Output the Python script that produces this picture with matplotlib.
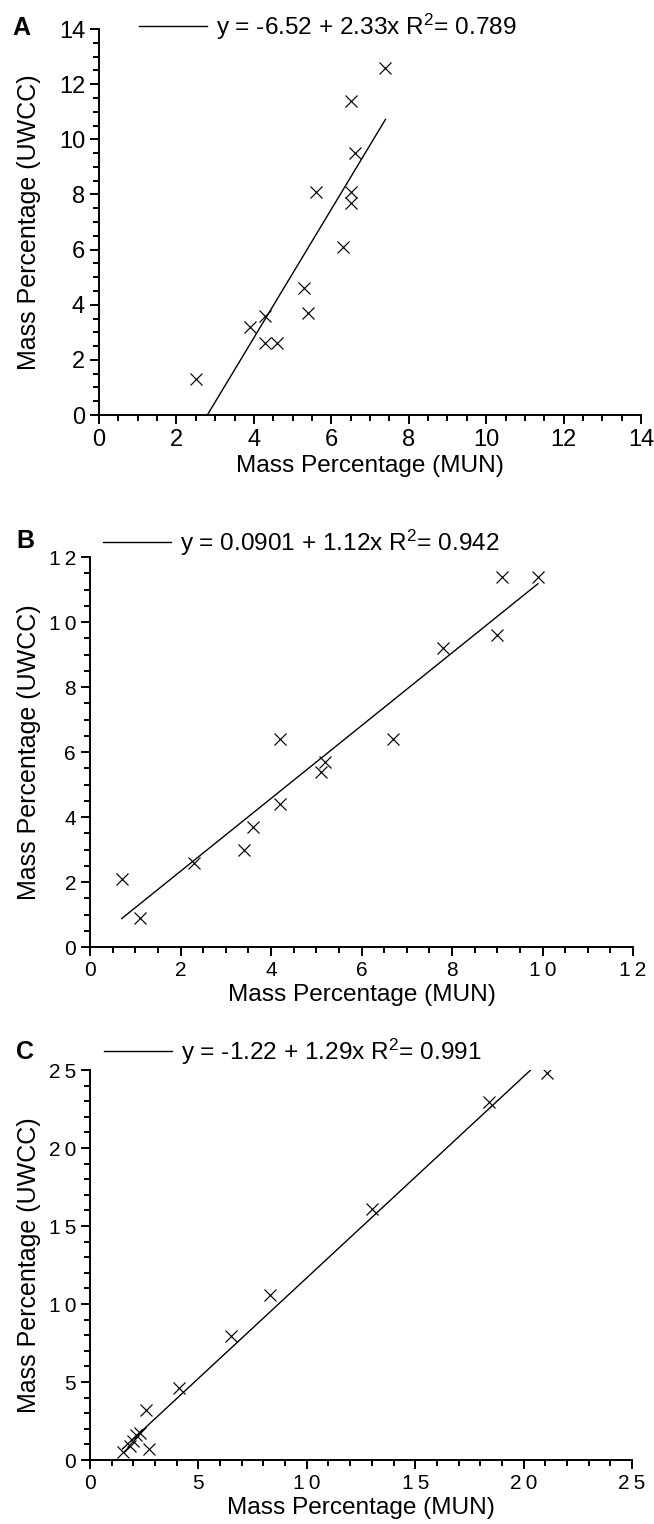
import matplotlib
matplotlib.use("Agg")
import matplotlib.pyplot as plt
import numpy as np

plt.rcParams['font.family'] = ['Liberation Sans', 'DejaVu Sans']
plt.rcParams['mathtext.fontset'] = 'custom'
plt.rcParams['mathtext.rm'] = 'Liberation Sans'
plt.rcParams['mathtext.default'] = 'regular'

# ---------------- data ----------------
a_mun = [2.5, 3.9, 4.3, 4.3, 4.6, 5.3, 5.4, 5.6, 6.3, 6.5, 6.5, 6.6, 6.5, 7.4]
a_uwcc = [1.3, 3.2, 3.6, 2.6, 2.6, 4.6, 3.7, 8.1, 6.1, 8.1, 7.7, 9.5, 11.4, 12.6]
a_fit = (-6.52, 2.33)
a_label = 'y = -6.52 + 2.33x R$^2$= 0.789'

b_mun = [0.7, 1.1, 2.3, 3.4, 3.6, 4.2, 4.2, 5.1, 5.2, 6.7, 7.8, 9.0, 9.1, 9.9]
b_uwcc = [2.1, 0.9, 2.6, 3.0, 3.7, 4.4, 6.4, 5.4, 5.7, 6.4, 9.2, 9.6, 11.4, 11.4]
b_fit = (0.0901, 1.12)
b_label = 'y = 0.0901 + 1.12x R$^2$= 0.942'

c_mun = [1.5, 1.85, 2.0, 2.1, 2.3, 2.7, 2.6, 4.1, 6.5, 8.3, 13.0, 18.4, 21.1]
c_uwcc = [0.5, 0.9, 1.2, 1.6, 1.7, 0.7, 3.2, 4.6, 7.95, 10.6, 16.1, 22.95, 24.8]
c_fit = (-1.22, 1.29)
c_label = 'y = -1.22 + 1.29x R$^2$= 0.991'

a_ticks = [0, 2, 4, 6, 8, 10, 12, 14]
a_ticklabels = ['0', '2', '4', '6', '8', '10', '12', '14']
b_ticks = [0, 2, 4, 6, 8, 10, 12]
b_ticklabels = ['0', '2', '4', '6', '8', '1\u20090', '1\u20092']
c_ticks = [0, 5, 10, 15, 20, 25]
c_ticklabels = ['0', '5', '1\u20090', '1\u20095', '2\u20090', '2\u20095']

xlabel = 'Mass Percentage (MUN)'
ylabel = 'Mass Percentage (UWCC)'

W, H = 654, 1524
fig = plt.figure(figsize=(W / 100, H / 100), dpi=100)

def px_axes(left, right, top, bottom):
    return fig.add_axes([left / W, 1 - bottom / H, (right - left) / W, (bottom - top) / H])

panels = [
    dict(rect=(99, 641, 29, 415), x=a_mun, y=a_uwcc, fit=a_fit, label=a_label,
         lim=14, ticks=a_ticks, tl=a_ticklabels, minor=0.5, tfs=17, letter='A',
         letter_pos=(21, 28), leg_pos=(139, 27)),
    dict(rect=(90, 633, 557, 947), x=b_mun, y=b_uwcc, fit=b_fit, label=b_label,
         lim=12, ticks=b_ticks, tl=b_ticklabels, minor=0.5, tfs=15, letter='B',
         letter_pos=(25, 541), leg_pos=(103, 543)),
    dict(rect=(90, 632, 1070, 1460), x=c_mun, y=c_uwcc, fit=c_fit, label=c_label,
         lim=25, ticks=c_ticks, tl=c_ticklabels, minor=1, tfs=15, letter='C',
         letter_pos=(25, 1052), leg_pos=(104, 1052)),
]

LFS = 17.6
for p in panels:
    left, right, top, bottom = p['rect']
    ax = px_axes(*p['rect'])
    x = np.array(p['x'])
    y = np.array(p['y'])
    ax.plot(x, y, linestyle='none', marker='x', markersize=8.6, mew=0.85, color='black')
    b0, b1 = p['fit']
    xs = np.array([x.min(), x.max()])
    fit_line, = ax.plot(xs, b0 + b1 * xs, color='black', lw=1.0)
    ax.set_xlim(0, p['lim'])
    ax.set_ylim(0, p['lim'])
    ax.set_xticks(p['ticks'], p['tl'])
    ax.set_yticks(p['ticks'], p['tl'])
    ax.set_xticks(np.arange(0, p['lim'] + 1e-9, p['minor']), minor=True)
    ax.set_yticks(np.arange(0, p['lim'] + 1e-9, p['minor']), minor=True)
    for s in ['top', 'right']:
        ax.spines[s].set_visible(False)
    for s in ['left', 'bottom']:
        ax.spines[s].set_linewidth(1.4)
    ax.tick_params(which='major', direction='out', length=6.5, width=1.4,
                   labelsize=p['tfs'], pad=3.5)
    ax.tick_params(which='minor', direction='out', length=4.2, width=1.4)
    ax.set_xlabel(xlabel, fontsize=LFS, labelpad=3)
    ax.set_ylabel(ylabel, fontsize=18)
    ax.yaxis.set_label_coords((41 - left) / (right - left), 0.5)
    lx, ly = p['letter_pos']
    fig.text(lx / W, 1 - ly / H, p['letter'], fontsize=18, fontweight='bold',
             ha='center', va='center')
    gx, gy = p['leg_pos']
    ax.legend([fit_line], [p['label']], loc='center left',
              bbox_to_anchor=(gx / W, 1 - gy / H), bbox_transform=fig.transFigure,
              frameon=False, fontsize=LFS, handlelength=2.8, handletextpad=0.35,
              borderpad=0, borderaxespad=0)

fig.savefig('out.png', dpi=100)
